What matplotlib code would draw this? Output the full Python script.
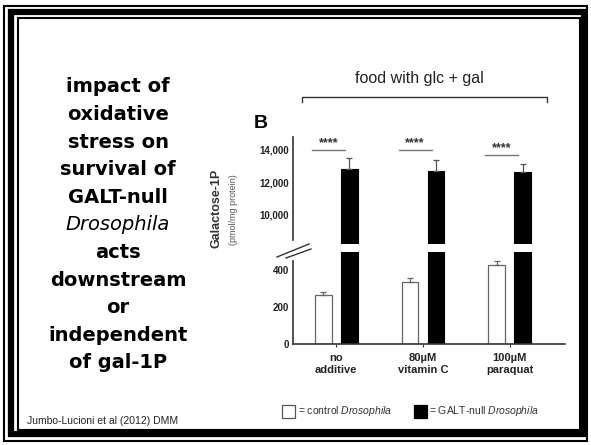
import matplotlib
matplotlib.use("Agg")
import matplotlib.pyplot as plt
from matplotlib.patches import Rectangle
from matplotlib.lines import Line2D
import numpy as np

plt.rcParams["mathtext.fontset"] = "custom"
plt.rcParams["mathtext.rm"] = "Liberation Sans"
plt.rcParams["mathtext.it"] = "Liberation Sans:italic"

# data
groups = ["no\nadditive", "80\u00b5M\nvitamin C", "100\u00b5M\nparaquat"]
control = [265, 335, 427]
control_err = [16, 20, 20]
galt_null = [12800, 12700, 12650]
galt_null_err = [700, 700, 450]
upper_ticks = [10000, 12000, 14000]
lower_ticks = [0, 200, 400]
sig_y = [14000, 14000, 13650]

side_lines = ["impact of", "oxidative", "stress on", "survival of", "GALT-null",
              "Drosophila", "acts", "downstream", "or", "independent", "of gal-1P"]

W, H = 591, 445
fig = plt.figure(figsize=(W / 100, H / 100), dpi=100)
fig.patch.set_facecolor("white")


def fx(px):
    return px / W


def fy(py):
    return 1 - py / H


# slide frame
for (x0, y0, x1, y1, lw) in [(4, 6, 587, 441, 1.5), (11, 12, 584, 434, 4.5), (18, 18, 580, 430, 1.5)]:
    fig.patches.append(Rectangle((fx(x0), fy(y1)), fx(x1 - x0), (y1 - y0) / H,
                                 transform=fig.transFigure, fill=False,
                                 edgecolor="black", linewidth=lw))

# left hand text block
for i, s in enumerate(side_lines):
    ital = s == "Drosophila"
    fig.text(fx(118), fy(87 + i * 27.6), s, ha="center", va="center",
             fontsize=14, family="DejaVu Sans",
             fontweight="normal" if ital else "bold",
             style="italic" if ital else "normal")

fig.text(fx(27), fy(421), "Jumbo-Lucioni et al (2012) DMM", ha="left", va="center",
         fontsize=7.5, family="Liberation Sans", color="#222222")

# axes geometry (px)
ax_left, ax_right = 293, 565
low = fig.add_axes([fx(ax_left), fy(344), (ax_right - ax_left) / W, 92.5 / H])
up = fig.add_axes([fx(ax_left), fy(244), (ax_right - ax_left) / W, 110.5 / H])

x = np.arange(len(groups))
off = 0.15
bw = 0.19
axcol = "#333333"

for ax in (low, up):
    ax.set_facecolor("none")
    ax.bar(x - off, control, bw, color="white", edgecolor="#666666", linewidth=0.9,
           yerr=[[0] * len(control), control_err],
           error_kw=dict(ecolor="#666666", elinewidth=0.9, capsize=2.5, capthick=0.9))
    ax.bar(x + off, galt_null, bw, color="black", edgecolor="black", linewidth=0.8,
           yerr=[[0] * len(galt_null), galt_null_err],
           error_kw=dict(ecolor="#555555", elinewidth=0.9, capsize=2.5, capthick=0.9))
    ax.set_xlim(-0.5, 2.64)
    for sp in ("top", "right"):
        ax.spines[sp].set_visible(False)
    ax.spines["left"].set_color(axcol)
    ax.spines["left"].set_linewidth(1.2)
    ax.tick_params(axis="y", length=0, labelsize=7, colors="#222222", pad=3)

low.set_ylim(0, 500)
low.spines["left"].set_bounds(0, 450)
low.spines["bottom"].set_color(axcol)
low.spines["bottom"].set_linewidth(1.2)
low.set_yticks(lower_ticks)
low.set_yticklabels([str(v) for v in lower_ticks], family="Liberation Sans", fontweight="bold")
low.set_xticks(x)
low.set_xticklabels(groups, family="Liberation Sans", fontsize=8, fontweight="bold", color="#222222")
low.tick_params(axis="x", length=2.5, width=0.8, colors=axcol, labelcolor="#222222", pad=4)

up.set_ylim(8200, 15000)
up.spines["left"].set_bounds(8450, 14800)
up.spines["bottom"].set_visible(False)
up.set_xticks([])
up.set_yticks(upper_ticks)
up.set_yticklabels([f"{v:,}" for v in upper_ticks], family="Liberation Sans", fontweight="bold")

# significance bars
for i in range(len(groups)):
    xa, xb = i - off - 0.13, i + off - 0.05
    up.plot([xa, xb], [sig_y[i], sig_y[i]], color="#777777", lw=1.0)
    up.text((xa + xb) / 2, sig_y[i] + 60, "****", ha="center", va="bottom",
            fontsize=9, color="#333333", family="Liberation Sans", fontweight="bold")

# axis break marks
for (a, b) in [((277, 257), (309, 244)), ((286, 258), (311, 249))]:
    fig.lines.append(Line2D([fx(a[0]), fx(b[0])], [fy(a[1]), fy(b[1])],
                            transform=fig.transFigure, color="#333333", lw=1.0))

# y label
fig.text(fx(217), fy(208), "Galactose-1P", rotation=90, ha="center", va="center",
         fontsize=9, family="Liberation Sans", fontweight="bold", color="#333333")
fig.text(fx(233), fy(210), "(pmol/mg protein)", rotation=90, ha="center", va="center",
         fontsize=6.5, family="Liberation Sans", color="#555555")

fig.text(fx(254), fy(124), "B", ha="left", va="center", fontsize=14,
         family="Liberation Sans", fontweight="bold")

# bracket and header
fig.lines.append(Line2D([fx(302), fx(302), fx(547), fx(547)], [fy(102), fy(97), fy(97), fy(102)],
                        transform=fig.transFigure, color="#333333", lw=1.0))
fig.text(fx(419), fy(78), "food with glc + gal", ha="center", va="center",
         fontsize=11.5, family="Liberation Sans", color="#222222")

# legend
fig.patches.append(Rectangle((fx(282), fy(418)), 13 / W, 13 / H, transform=fig.transFigure,
                             facecolor="white", edgecolor="#555555", lw=0.9))
fig.text(fx(298), fy(411), "= control $\\it{Drosophila}$", ha="left", va="center",
         fontsize=7.5, family="Liberation Sans", color="#333333")
fig.patches.append(Rectangle((fx(414), fy(418)), 13 / W, 13 / H, transform=fig.transFigure,
                             facecolor="black", edgecolor="black", lw=0.9))
fig.text(fx(429), fy(411), "= GALT-null $\\it{Drosophila}$", ha="left", va="center",
         fontsize=7.5, family="Liberation Sans", color="#333333")

fig.savefig("out.png", dpi=100)
